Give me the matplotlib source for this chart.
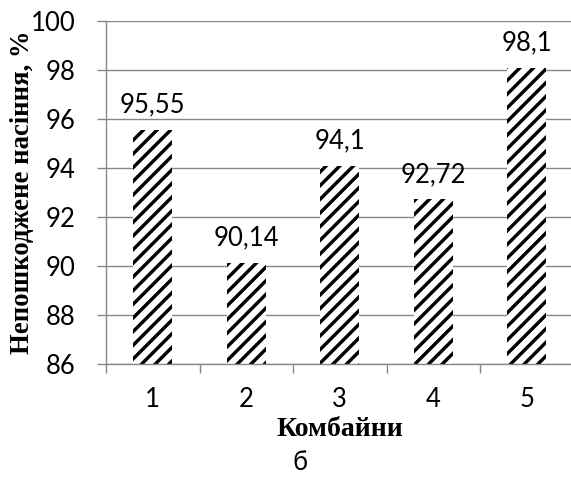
import matplotlib
matplotlib.use("Agg")
import matplotlib.pyplot as plt
from matplotlib.ticker import FixedLocator, NullFormatter

# дані: пошкодження насіння по комбайнах
kombainy = [1, 2, 3, 4, 5]
nasinnia = [95.55, 90.14, 94.1, 92.72, 98.1]
pidpysy = ["95,55", "90,14", "94,1", "92,72", "98,1"]
y_ticks = [86, 88, 90, 92, 94, 96, 98, 100]

DPI = 82
plt.rcParams['hatch.linewidth'] = 3.0
plt.rcParams['font.family'] = ['Lato', 'DejaVu Sans']

sirij = '#868686'
fs = 22.5

fig = plt.figure(figsize=(571 / DPI, 478 / DPI), dpi=DPI)
ax = fig.add_axes([106 / 571, 1 - 364 / 478, 467.5 / 571, 343 / 478])

ax.bar(kombainy, nasinnia, width=0.42, bottom=0, facecolor='white',
       edgecolor='black', linewidth=0, hatch='//', zorder=2)

for x, v, t in zip(kombainy, nasinnia, pidpysy):
    ax.annotate(t, (x, v), xytext=(0, 11), textcoords='offset points',
                ha='center', va='bottom', fontsize=fs)

ax.set_xlim(0.5, 5.5)
ax.set_ylim(86, 100)
ax.set_yticks(y_ticks)
ax.set_yticklabels([str(t) for t in y_ticks])
ax.set_xticks(kombainy)
ax.xaxis.set_minor_locator(FixedLocator([0.5, 1.5, 2.5, 3.5, 4.5, 5.5]))
ax.xaxis.set_minor_formatter(NullFormatter())

ax.tick_params(axis='x', which='major', length=0, pad=20, labelsize=fs)
ax.tick_params(axis='x', which='minor', length=7.9, width=1.2, color=sirij,
               direction='out')
ax.tick_params(axis='y', length=7.9, width=1.2, color=sirij, pad=19,
               labelsize=fs, direction='out')

ax.grid(axis='y', color=sirij, linewidth=1.2, zorder=0)
ax.set_axisbelow(True)
for s in ['top', 'right']:
    ax.spines[s].set_visible(False)
for s in ['left', 'bottom']:
    ax.spines[s].set_color(sirij)
    ax.spines[s].set_linewidth(1.2)

ax.set_xlabel('Комбайни', family=['Liberation Serif'], fontweight='bold',
              fontsize=24.4, labelpad=5)
ax.set_ylabel('Непошкоджене насіння, %', family=['Liberation Serif'],
              fontweight='bold', fontsize=23.4, labelpad=-4)

fig.text(300 / 571, 1 - 463 / 478, 'б', ha='center', va='center',
         fontsize=fs)

fig.savefig('out.png', dpi=DPI)
